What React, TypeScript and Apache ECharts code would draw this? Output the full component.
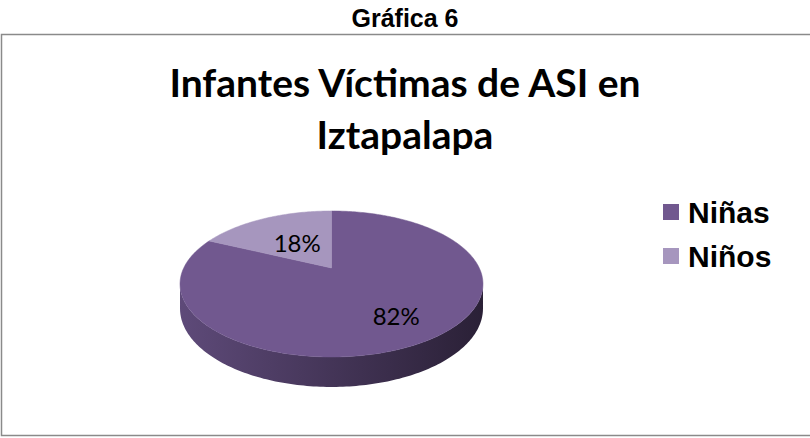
import React, { useEffect, useRef } from "react";
import * as echarts from "echarts";

// ---- data ----
const categories = ["Niñas", "Niños"];
const values = [82, 18];
const pageTitle = "Gráfica 6";
const chartTitle = "Infantes Víctimas de ASI en\nIztapalapa";

// ---- styles / layout ----
const topColors = ["#71588F", "#A696BE"];
const sideLeft = ["#5E4A79", "#8F80A6"];
const sideRight = ["#2A2036", "#4E4460"];
const CX = 331.5;
const CY = 268;
const RX = 147.8;
const RY = 69.5;
const K = 0.219; // perspective factor
const H = 23.4; // thickness
const LABEL_R = [0.71, 0.47];

function proj(theta: number, f = 1) {
  const u = Math.sin(theta) * f;
  const v = Math.cos(theta) * f;
  const w = 1 + K * v;
  return { x: CX + (RX * u) / w, y: CY - (RY * v) / w, w };
}

function arcPoints(a0: number, a1: number, bottom = false) {
  const pts: number[][] = [];
  const n = Math.max(2, Math.ceil(((a1 - a0) * 180) / Math.PI));
  for (let i = 0; i <= n; i++) {
    const t = a0 + ((a1 - a0) * i) / n;
    const p = proj(t);
    pts.push([p.x, bottom ? p.y + H / p.w : p.y]);
  }
  return pts;
}

const total = values.reduce((s, v) => s + v, 0);

function makeRender(idx: number) {
  return function (params: any, api: any) {
    const val = api.value(0);
    let before = 0;
    for (let j = 0; j < idx; j++) before += values[j];
    const a0 = (before / total) * Math.PI * 2;
    const a1 = ((before + val) / total) * Math.PI * 2;
    const children: any[] = [];
    const tR = Math.atan2(Math.sqrt(1 - K * K), -K);
    const tL = Math.PI * 2 - tR;
    const s0 = Math.max(a0, tR);
    const s1 = Math.min(a1, tL);
    if (s1 > s0) {
      const topArc = arcPoints(s0, s1);
      const botArc = arcPoints(s0, s1, true).reverse();
      children.push({
        type: "polygon",
        z2: 0,
        shape: { points: topArc.concat(botArc) },
        style: {
          fill: new echarts.graphic.LinearGradient(
            CX - RX * 1.03,
            0,
            CX + RX * 1.03,
            0,
            [
              { offset: 0, color: sideLeft[idx] },
              { offset: 1, color: sideRight[idx] },
            ],
            true
          ),
          stroke: null,
        },
      });
    }
    const apex = proj(0, 0);
    children.push({
      type: "polygon",
      z2: 10,
      shape: { points: [[apex.x, apex.y]].concat(arcPoints(a0, a1)) },
      style: { fill: topColors[idx], stroke: topColors[idx], lineWidth: 0.5 },
    });
    const mid = (a0 + a1) / 2;
    const lp = proj(mid, LABEL_R[idx]);
    children.push({
      type: "text",
      z2: 20,
      style: {
        text: Math.round((val / total) * 100) + "%",
        x: lp.x,
        y: lp.y,
        align: "center",
        verticalAlign: "middle",
        fontSize: 24,
        fontFamily: "Lato",
        fill: "#000",
      },
    });
    return { type: "group", children };
  };
}

export default function App() {
  const ref = useRef<HTMLDivElement>(null);
  useEffect(() => {
    if (!ref.current) return;
    const chart = echarts.init(ref.current, null, { renderer: "svg" });
    chart.setOption({
      animation: false,
      backgroundColor: "#ffffff",
      title: [
        {
          text: pageTitle,
          left: "center",
          top: 4,
          padding: 0,
          textStyle: {
            fontFamily: "Liberation Sans",
            fontWeight: "bold",
            fontSize: 25,
            lineHeight: 28,
            color: "#000",
          },
        },
        {
          text: chartTitle,
          left: "center",
          top: 56,
          padding: 0,
          textStyle: {
            fontFamily: "Lato",
            fontWeight: "bold",
            fontSize: 39,
            lineHeight: 52,
            color: "#000",
          },
        },
      ],
      legend: {
        orient: "vertical",
        left: 663,
        top: 197,
        padding: 0,
        itemWidth: 16,
        itemHeight: 16,
        itemGap: 14,
        icon: "rect",
        selectedMode: false,
        data: categories.map((c, i) => ({
          name: c,
          itemStyle: { color: topColors[i] },
        })),
        textStyle: {
          fontFamily: "Liberation Sans",
          fontWeight: "bold",
          fontSize: 30,
          lineHeight: 30,
          color: "#000",
          padding: [0, 0, 0, 4],
        },
      },
      graphic: [
        {
          type: "rect",
          shape: { x: 1.5, y: 34.5, width: 812, height: 401 },
          style: { fill: "none", stroke: "#8a8a8a", lineWidth: 1.5 },
          silent: true,
        },
      ],
      series: categories.map((c, i) => ({
        type: "custom",
        name: c,
        coordinateSystem: "none",
        silent: true,
        itemStyle: { color: topColors[i] },
        data: [[values[i]]],
        renderItem: makeRender(i),
      })),
    });
    return () => chart.dispose();
  }, []);
  return (
    <div
      ref={ref}
      style={{ position: "absolute", left: 0, top: 0, width: 810, height: 438 }}
    />
  );
}
